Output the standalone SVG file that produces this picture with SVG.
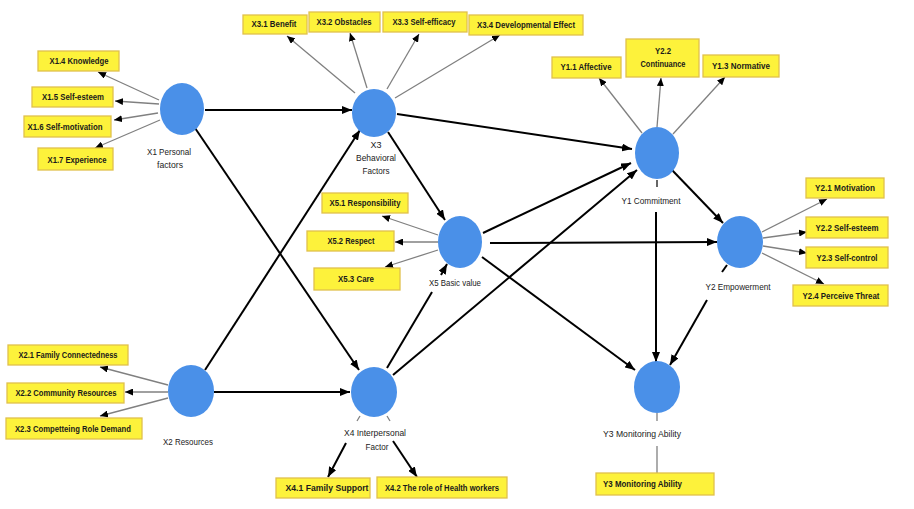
<svg xmlns="http://www.w3.org/2000/svg" width="914" height="509" viewBox="0 0 914 509">
<defs>
<style>
.node{fill:#4a90e8;}
.box{fill:#fdf23b;stroke:#e0c04c;stroke-width:1.3;}
.bt{font-family:"Liberation Sans",Arial,sans-serif;font-size:9px;font-weight:bold;fill:#1a1a1a;text-anchor:middle;}
.nt{font-family:"Liberation Sans",Arial,sans-serif;font-size:9px;fill:#222;text-anchor:middle;}
.main{stroke:#000;stroke-width:2;fill:none;}
.ind{stroke:#808080;stroke-width:1.3;fill:none;}
</style>
<marker id="ah" markerUnits="userSpaceOnUse" markerWidth="10" markerHeight="8" refX="10" refY="4" orient="auto"><path d="M0,0 L10,4 L0,8 z" fill="#000"/></marker>
<marker id="as" markerUnits="userSpaceOnUse" markerWidth="8" markerHeight="7" refX="8" refY="3.5" orient="auto"><path d="M0,0 L8,3.5 L0,7 z" fill="#000"/></marker>
</defs>
<rect width="914" height="509" fill="#fff"/>

<g id="connectors">
<!-- indicator lines -->
<g class="ind" marker-end="url(#as)">
<line x1="159" y1="100" x2="98" y2="72"/>
<line x1="159" y1="104" x2="115" y2="101"/>
<line x1="158" y1="113" x2="114" y2="120"/>
<line x1="160" y1="120" x2="95" y2="148"/>
<line x1="355" y1="93" x2="287" y2="36"/>
<line x1="367" y1="88" x2="350" y2="33"/>
<line x1="387" y1="89" x2="419" y2="34"/>
<line x1="395" y1="98" x2="500" y2="35"/>
<line x1="642" y1="133" x2="599" y2="78"/>
<line x1="657" y1="127" x2="661" y2="78"/>
<line x1="673" y1="134" x2="725" y2="77"/>
<line x1="762" y1="232" x2="827" y2="199"/>
<line x1="763" y1="238" x2="807" y2="232"/>
<line x1="763" y1="246" x2="807" y2="253"/>
<line x1="762" y1="253" x2="824" y2="284"/>
<line x1="438" y1="235" x2="382" y2="216"/>
<line x1="438" y1="242" x2="395" y2="242"/>
<line x1="438" y1="250" x2="385" y2="267"/>
<line x1="168" y1="385" x2="100" y2="367"/>
<line x1="168" y1="392" x2="125" y2="392"/>
<line x1="168" y1="398" x2="100" y2="416"/>
</g>
<g class="ind">
<line x1="657" y1="413" x2="657" y2="421"/>
<line x1="657" y1="446" x2="657" y2="473"/>
<line x1="360" y1="416" x2="357" y2="421"/>
<line x1="387" y1="416" x2="390" y2="421"/>
</g>
<!-- structural paths -->
<g class="main" marker-end="url(#ah)">
<line x1="205" y1="110" x2="352" y2="110"/>
<line x1="195" y1="128" x2="359" y2="370"/>
<line x1="205" y1="370" x2="360" y2="130"/>
<line x1="214" y1="392" x2="350" y2="392"/>
<line x1="397" y1="114" x2="632" y2="149"/>
<line x1="388" y1="132" x2="445" y2="220"/>
<line x1="483" y1="233" x2="631" y2="163"/>
<line x1="393" y1="375" x2="637" y2="170"/>
<line x1="441" y1="275" x2="447" y2="264"/>
<line x1="490" y1="243" x2="717" y2="242"/>
<line x1="482" y1="257" x2="635" y2="370"/>
<line x1="672" y1="170" x2="723" y2="223"/>
<line x1="656" y1="212" x2="656" y2="362"/>
<line x1="707" y1="300" x2="670" y2="365"/>
<line x1="346" y1="443" x2="328" y2="477"/>
<line x1="393" y1="441" x2="417" y2="477"/>
</g>
<g class="main">
<line x1="387" y1="368" x2="432" y2="292"/>
<line x1="657" y1="180" x2="657" y2="187" stroke="#666"/>
<line x1="727" y1="265" x2="722" y2="272"/>
</g>
</g>

<g id="X1">
<ellipse class="node" cx="182" cy="109" rx="22" ry="26"/>
<text class="nt" x="169" y="155" textLength="44" lengthAdjust="spacingAndGlyphs">X1 Personal</text>
<text class="nt" x="170" y="168" textLength="26" lengthAdjust="spacingAndGlyphs">factors</text>
</g>
<g id="X1.4"><rect class="box" x="38" y="51" width="81" height="20"/><text class="bt" x="79" y="64" textLength="59" lengthAdjust="spacingAndGlyphs">X1.4 Knowledge</text></g>
<g id="X1.5"><rect class="box" x="32" y="87" width="81" height="20"/><text class="bt" x="73" y="100" textLength="62" lengthAdjust="spacingAndGlyphs">X1.5 Self-esteem</text></g>
<g id="X1.6"><rect class="box" x="24" y="116" width="87" height="21"/><text class="bt" x="65" y="130" textLength="75" lengthAdjust="spacingAndGlyphs">X1.6 Self-motivation</text></g>
<g id="X1.7"><rect class="box" x="38" y="148" width="75" height="22"/><text class="bt" x="77" y="163" textLength="59" lengthAdjust="spacingAndGlyphs">X1.7 Experience</text></g>

<g id="X3">
<ellipse class="node" cx="374" cy="113" rx="22" ry="24"/>
<text class="nt" x="376" y="148">X3</text>
<text class="nt" x="376" y="161" textLength="40" lengthAdjust="spacingAndGlyphs">Behavioral</text>
<text class="nt" x="376" y="174" textLength="27" lengthAdjust="spacingAndGlyphs">Factors</text>
</g>
<g id="X3.1"><rect class="box" x="243" y="15" width="64" height="19"/><text class="bt" x="274" y="27" textLength="45" lengthAdjust="spacingAndGlyphs">X3.1 Benefit</text></g>
<g id="X3.2"><rect class="box" x="309" y="12" width="71" height="20"/><text class="bt" x="344" y="25" textLength="55" lengthAdjust="spacingAndGlyphs">X3.2 Obstacles</text></g>
<g id="X3.3"><rect class="box" x="383" y="12" width="84" height="20"/><text class="bt" x="424" y="25" textLength="63" lengthAdjust="spacingAndGlyphs">X3.3 Self-efficacy</text></g>
<g id="X3.4"><rect class="box" x="469" y="15" width="114" height="20"/><text class="bt" x="526" y="28" textLength="98" lengthAdjust="spacingAndGlyphs">X3.4 Developmental Effect</text></g>

<g id="Y1">
<ellipse class="node" cx="657" cy="153" rx="22" ry="26"/>
<text class="nt" x="651" y="204" textLength="59" lengthAdjust="spacingAndGlyphs">Y1 Commitment</text>
</g>
<g id="Y1.1"><rect class="box" x="552" y="57" width="69" height="21"/><text class="bt" x="586" y="70" textLength="51" lengthAdjust="spacingAndGlyphs">Y1.1 Affective</text></g>
<g id="Y2.2c"><rect class="box" x="626" y="39" width="73" height="38"/><text class="bt" x="663" y="54" textLength="16" lengthAdjust="spacingAndGlyphs">Y2.2</text><text class="bt" x="663" y="67" textLength="45" lengthAdjust="spacingAndGlyphs">Continuance</text></g>
<g id="Y1.3"><rect class="box" x="703" y="55" width="76" height="22"/><text class="bt" x="741" y="69" textLength="58" lengthAdjust="spacingAndGlyphs">Y1.3 Normative</text></g>

<g id="X5">
<ellipse class="node" cx="460" cy="242" rx="22" ry="26"/>
<text class="nt" x="455" y="286" textLength="52" lengthAdjust="spacingAndGlyphs">X5 Basic value</text>
</g>
<g id="X5.1"><rect class="box" x="322" y="193" width="86" height="20"/><text class="bt" x="365" y="206" textLength="71" lengthAdjust="spacingAndGlyphs">X5.1 Responsibility</text></g>
<g id="X5.2"><rect class="box" x="307" y="231" width="87" height="20"/><text class="bt" x="351" y="244" textLength="47" lengthAdjust="spacingAndGlyphs">X5.2 Respect</text></g>
<g id="X5.3"><rect class="box" x="314" y="268" width="86" height="22"/><text class="bt" x="356" y="282" textLength="36" lengthAdjust="spacingAndGlyphs">X5.3 Care</text></g>

<g id="Y2">
<ellipse class="node" cx="740" cy="242" rx="23" ry="26"/>
<text class="nt" x="738" y="290" textLength="65" lengthAdjust="spacingAndGlyphs">Y2 Empowerment</text>
</g>
<g id="Y2.1"><rect class="box" x="806" y="178" width="78" height="20"/><text class="bt" x="845" y="191" textLength="60" lengthAdjust="spacingAndGlyphs">Y2.1 Motivation</text></g>
<g id="Y2.2"><rect class="box" x="806" y="217" width="82" height="21"/><text class="bt" x="847" y="231" textLength="63" lengthAdjust="spacingAndGlyphs">Y2.2 Self-esteem</text></g>
<g id="Y2.3"><rect class="box" x="806" y="247" width="82" height="21"/><text class="bt" x="847" y="261" textLength="61" lengthAdjust="spacingAndGlyphs">Y2.3 Self-control</text></g>
<g id="Y2.4"><rect class="box" x="793" y="285" width="95" height="21"/><text class="bt" x="841" y="299" textLength="77" lengthAdjust="spacingAndGlyphs">Y2.4 Perceive Threat</text></g>

<g id="X2">
<ellipse class="node" cx="191" cy="391" rx="23" ry="26"/>
<text class="nt" x="188" y="445" textLength="50" lengthAdjust="spacingAndGlyphs">X2 Resources</text>
</g>
<g id="X2.1"><rect class="box" x="8" y="345" width="120" height="20"/><text class="bt" x="68" y="358" textLength="99" lengthAdjust="spacingAndGlyphs">X2.1 Family Connectedness</text></g>
<g id="X2.2"><rect class="box" x="7" y="383" width="117" height="20"/><text class="bt" x="66" y="396" textLength="101" lengthAdjust="spacingAndGlyphs">X2.2 Community Resources</text></g>
<g id="X2.3"><rect class="box" x="6" y="418" width="136" height="21"/><text class="bt" x="73" y="432" textLength="116" lengthAdjust="spacingAndGlyphs">X2.3 Competteing Role Demand</text></g>

<g id="X4">
<ellipse class="node" cx="374" cy="392" rx="23" ry="25"/>
<text class="nt" x="375" y="436" textLength="62" lengthAdjust="spacingAndGlyphs">X4 Interpersonal</text>
<text class="nt" x="377" y="450" textLength="23" lengthAdjust="spacingAndGlyphs">Factor</text>
</g>
<g id="X4.1"><rect class="box" x="276" y="478" width="94" height="20"/><text class="bt" x="327" y="491" textLength="83" lengthAdjust="spacingAndGlyphs">X4.1 Family Support</text></g>
<g id="X4.2"><rect class="box" x="377" y="477" width="130" height="21"/><text class="bt" x="442" y="491" textLength="114" lengthAdjust="spacingAndGlyphs">X4.2 The role of Health workers</text></g>

<g id="Y3">
<ellipse class="node" cx="657" cy="387" rx="23" ry="26"/>
<text class="nt" x="642" y="437" textLength="78" lengthAdjust="spacingAndGlyphs">Y3 Monitoring Ability</text>
</g>
<g id="Y3box"><rect class="box" x="596" y="473" width="118" height="22"/><text class="bt" x="603" y="487" text-anchor="start" style="text-anchor:start" textLength="79" lengthAdjust="spacingAndGlyphs">Y3 Monitoring Ability</text></g>
</svg>
